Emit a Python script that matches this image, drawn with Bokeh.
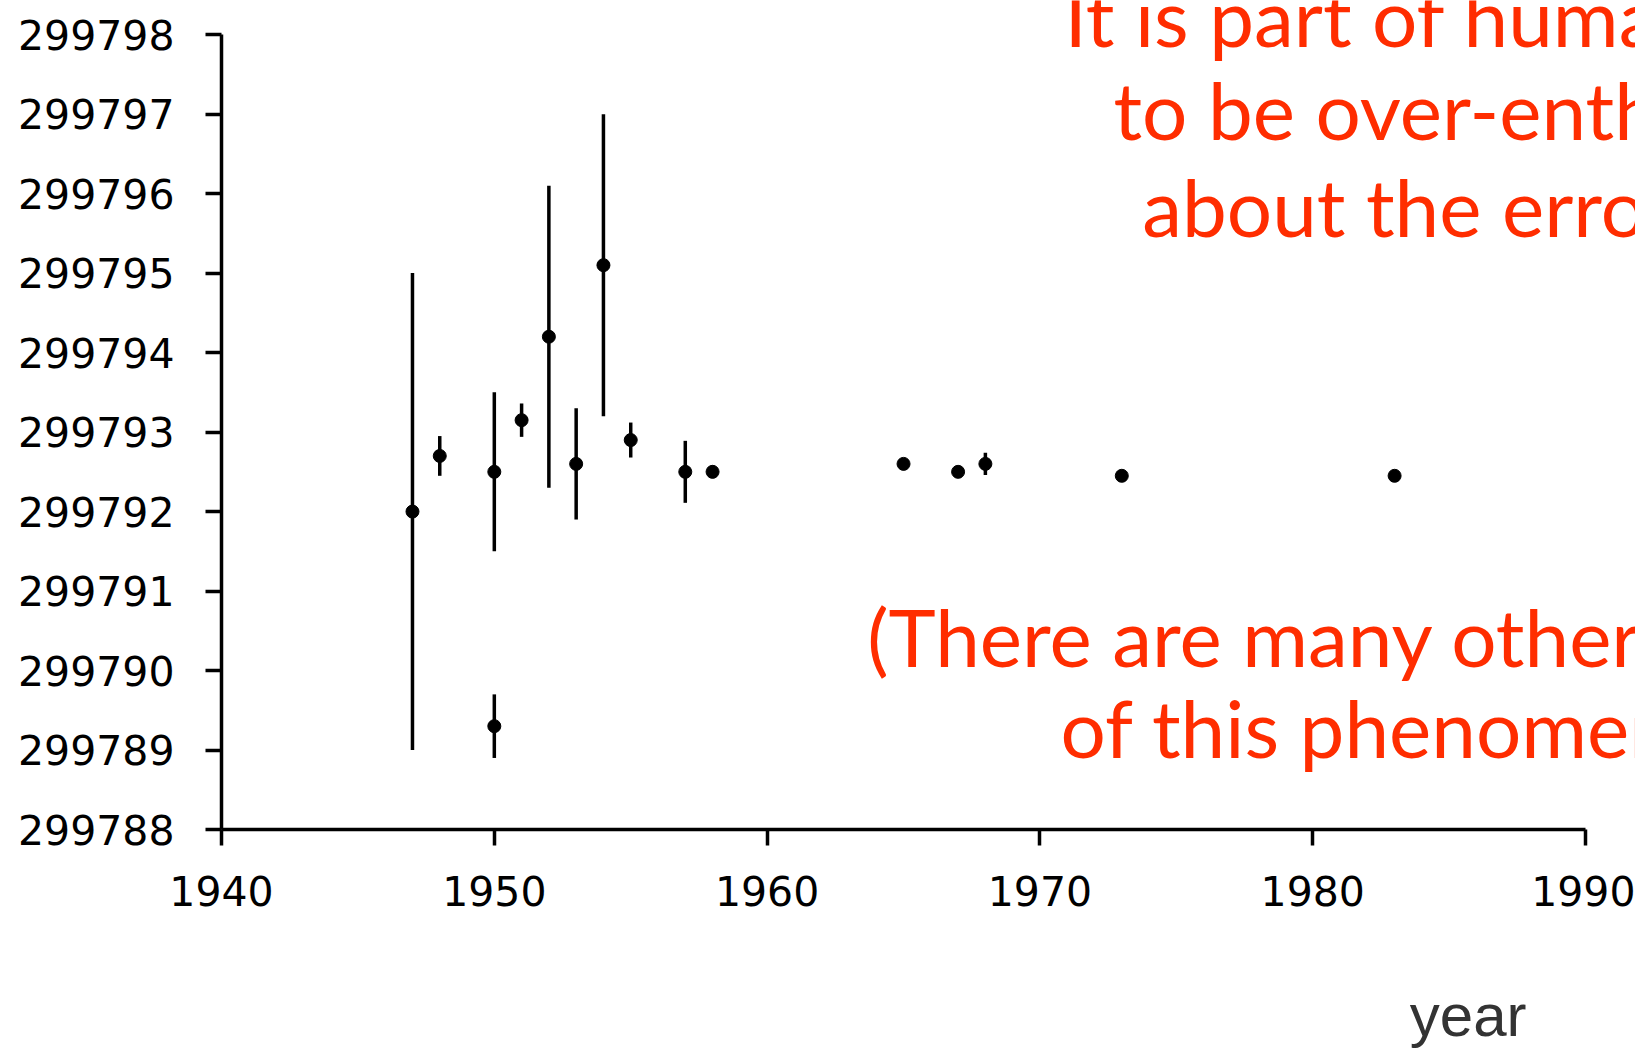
from bokeh.plotting import figure
from bokeh.models import Range1d, FixedTicker, NumeralTickFormatter, Label, ColumnDataSource, Title
from bokeh.embed import file_html
from bokeh.resources import INLINE

# Measurements of the speed of light (km/s) by year, with quoted errors
years = [1947, 1948, 1950, 1950, 1951, 1952, 1953, 1954, 1955, 1957, 1958, 1965, 1967, 1968, 1973, 1983]
speed = [299792.0, 299792.7, 299792.5, 299789.3, 299793.15, 299794.2, 299792.6, 299795.1,
         299792.9, 299792.5, 299792.5, 299792.6, 299792.5, 299792.6, 299792.45, 299792.45]
error = [3.0, 0.25, 1.0, 0.4, 0.21, 1.9, 0.7, 1.9, 0.22, 0.39, 0.08, 0.05, 0.05, 0.14, 0.01, 0.01]

x_ticks = [1940, 1950, 1960, 1970, 1980, 1990]
y_ticks = [299788, 299789, 299790, 299791, 299792, 299793, 299794, 299795, 299796, 299797, 299798]

lower = [s - e for s, e in zip(speed, error)]
upper = [s + e for s, e in zip(speed, error)]
src = ColumnDataSource(dict(x=years, y=speed, lo=lower, hi=upper))

# frame runs to the right and top edges of the canvas so the big texts are cut by the page edge
p = figure(width=1635, height=1054, output_backend="svg", toolbar_location=None,
           x_range=Range1d(1940, 1991.83), y_range=Range1d(299788, 299798.43),
           min_border_left=221, min_border_right=0, min_border_top=0, min_border_bottom=225)
p.outline_line_color = None
p.grid.visible = False
p.background_fill_color = "white"
p.border_fill_color = "white"

p.segment(x0="x", y0="lo", x1="x", y1="hi", source=src, line_color="black", line_width=3.5)
p.scatter(x="x", y="y", source=src, size=13, marker="circle", fill_color="black", line_color="black")

for ax in (p.xaxis[0], p.yaxis[0]):
    ax.axis_line_width = 3.5
    ax.axis_line_color = "black"
    ax.major_tick_line_width = 3.5
    ax.major_tick_line_color = "black"
    ax.major_tick_out = 16
    ax.major_tick_in = 0
    ax.minor_tick_out = 0
    ax.minor_tick_in = 0
    ax.major_label_text_font = "DejaVu Sans"
    ax.major_label_text_font_size = "41px"
    ax.major_label_text_color = "black"

p.xaxis.ticker = FixedTicker(ticks=x_ticks)
p.yaxis.ticker = FixedTicker(ticks=y_ticks)
p.xaxis.bounds = (x_ticks[0], x_ticks[-1])
p.yaxis.bounds = (y_ticks[0], y_ticks[-1])
p.yaxis.formatter = NumeralTickFormatter(format="0")
p.xaxis.formatter = NumeralTickFormatter(format="0")
p.yaxis.major_label_standoff = 31
p.xaxis.major_label_standoff = 30

# axis title "year", under the right part of the x axis (blank first line pushes it down)
p.add_layout(Title(text="\nyear", align="right", offset=109, standoff=9,
                   text_font="Liberation Sans", text_font_size="60px",
                   text_font_style="normal", text_color="#333333"), "below")

red = "#ff2d00"
lines = [
    ("It is part of human nature", 1970.9, 299798.24),
    ("to be over-enthusiastic", 1972.7, 299797.06),
    ("about the error bars", 1973.75, 299795.85),
    ("(There are many other examples", 1963.67, 299790.43),
    ("of this phenomenon)", 1970.75, 299789.29),
]
for t, lx, ly in lines:
    p.add_layout(Label(x=lx, y=ly, text=t, text_font="Lato", text_font_size="80px",
                       text_color=red, text_align="left", text_baseline="alphabetic"))

open("out.html", "w").write(file_html(p, INLINE))
